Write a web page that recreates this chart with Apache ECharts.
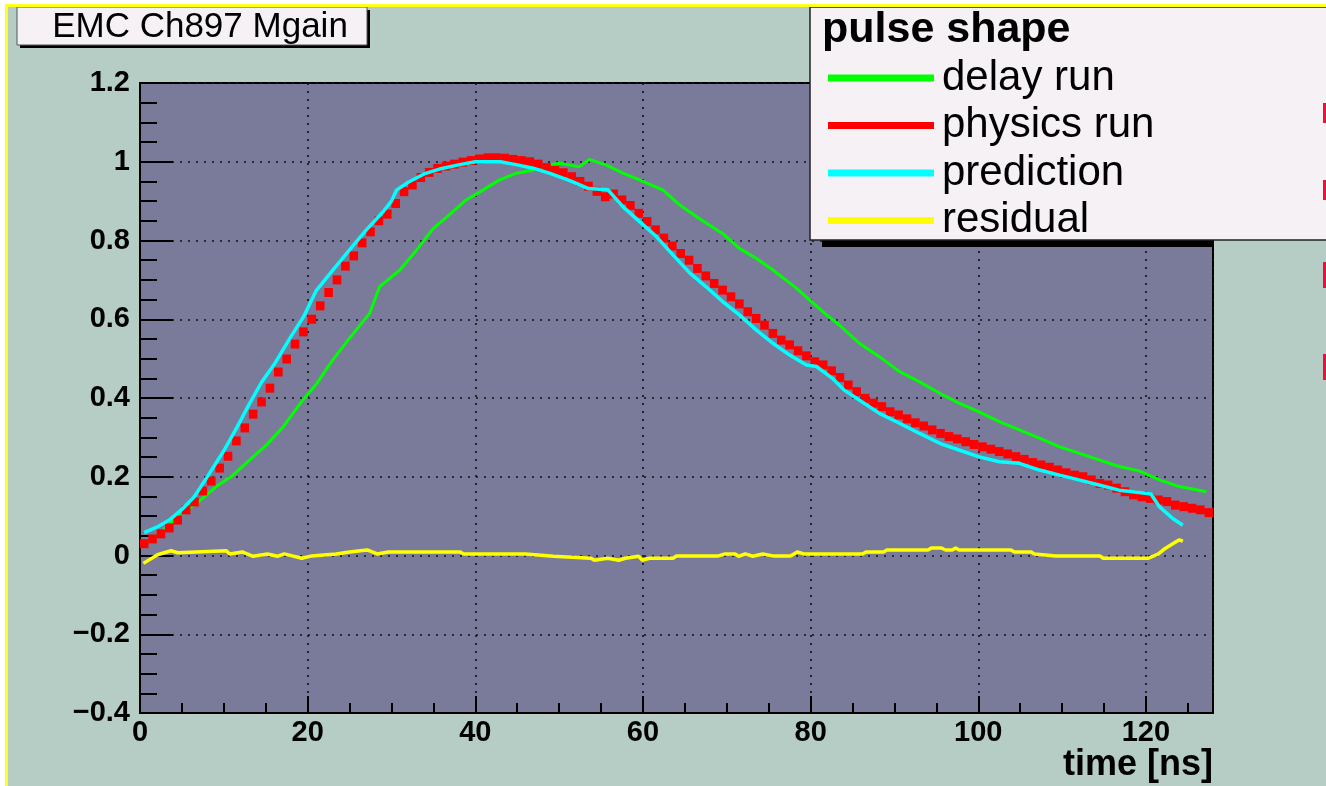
<!DOCTYPE html>
<html><head><meta charset="utf-8">
<script src="https://cdn.jsdelivr.net/npm/echarts@6/dist/echarts.min.js"></script>
<style>html,body{margin:0;padding:0;background:#fff}#c{width:1326px;height:786px}</style>
</head><body><div id="c"></div>
<script>
// ---- texts ----
const titleText = 'EMC Ch897 Mgain';
const legendTitle = 'pulse shape';
const seriesNames = ['delay run', 'physics run', 'prediction', 'residual'];
const xAxisName = 'time [ns]';

// ---- axes ----
const xMin = 0, xMax = 128, xStep = 20;
const yMin = -0.4, yMax = 1.2, yStep = 0.2;

// ---- data: delay run [time, value] ----
const delayRun = [
  [0.5,0.032],[1.5,0.040],[2.4,0.056],[4.8,0.107],[6.8,0.133],[9.1,0.175],[11.1,0.204],
  [13.1,0.243],[15.1,0.281],[17.1,0.327],[19.1,0.386],[21.1,0.437],[23,0.497],[25,0.552],
  [27.4,0.615],[28.6,0.683],[31,0.725],[33,0.776],[35,0.831],[36.9,0.865],[38.9,0.903],
  [40.9,0.928],[42.9,0.954],[44.9,0.971],[46.9,0.979],[47.7,0.989],[50.1,0.996],[52.4,0.987],
  [53.6,1.006],[54.8,0.997],[55.6,0.992],[57.6,0.971],[59.6,0.954],[62.4,0.928],[64.4,0.890],
  [66.7,0.856],[69.5,0.818],[71.5,0.780],[73.5,0.755],[75.5,0.725],[78.3,0.679],[80.3,0.641],
  [81.9,0.611],[83.4,0.586],[85.8,0.539],[88.2,0.505],[90.6,0.467],[93,0.441],[95.4,0.412],
  [97.7,0.387],[100.1,0.365],[102.5,0.340],[104.9,0.319],[107.3,0.298],[109.7,0.276],
  [112,0.260],[114.4,0.243],[116.8,0.226],[119.2,0.215],[121.6,0.192],[124,0.175],[127.2,0.162]
];

// ---- data: physics run, one value per 1 ns bin (bins 0..127) ----
const physicsRun = [
  0.030,0.042,0.055,0.070,0.090,0.116,0.136,0.164,0.189,0.222,
  0.252,0.291,0.324,0.359,0.390,0.425,0.466,0.499,0.537,0.568,
  0.600,0.634,0.668,0.700,0.735,0.761,0.794,0.822,0.850,0.867,
  0.894,0.924,0.941,0.960,0.973,0.983,0.989,0.994,0.999,1.003,
  1.007,1.010,1.010,1.009,1.006,1.003,1.000,0.994,0.985,0.978,
  0.972,0.962,0.950,0.938,0.925,0.911,0.918,0.903,0.889,0.869,
  0.848,0.827,0.806,0.786,0.767,0.750,0.729,0.710,0.691,0.674,
  0.657,0.639,0.619,0.602,0.585,0.564,0.547,0.535,0.520,0.507,
  0.492,0.484,0.469,0.452,0.433,0.416,0.399,0.387,0.378,0.365,
  0.357,0.347,0.337,0.329,0.319,0.310,0.302,0.296,0.289,0.282,
  0.276,0.270,0.264,0.258,0.251,0.244,0.236,0.230,0.224,0.217,
  0.210,0.204,0.200,0.192,0.183,0.179,0.171,0.162,0.154,0.149,
  0.145,0.141,0.137,0.128,0.124,0.120,0.116,0.109
];

// ---- data: prediction [time, value] ----
const prediction = [
  [0.5,0.058],[2,0.072],[3.5,0.090],[5,0.117],[6.5,0.150],[8,0.199],[10,0.266],[11.5,0.323],
  [13,0.383],[14.5,0.440],[16,0.485],[18,0.556],[19.5,0.606],[21,0.672],[23,0.725],[25,0.776],
  [27,0.827],[29,0.873],[30,0.900],[30.6,0.928],[32,0.948],[34,0.970],[36,0.983],[38,0.992],
  [40,1.000],[43,1.000],[45,0.992],[47,0.983],[49,0.970],[51.5,0.950],[53.5,0.932],[55.8,0.929],
  [57.6,0.886],[59.6,0.848],[61.6,0.810],[63.6,0.763],[65.6,0.717],[67.5,0.683],[69.5,0.645],
  [71.5,0.611],[73.5,0.573],[75.5,0.539],[77.5,0.509],[79.5,0.484],[80.7,0.480],[82.6,0.450],
  [84,0.420],[85.8,0.395],[88.2,0.361],[90.6,0.336],[93,0.310],[95.4,0.285],[97.7,0.268],
  [100,0.251],[102.5,0.238],[104.9,0.234],[107.3,0.217],[109.7,0.204],[112,0.192],[114.4,0.179],
  [116.8,0.166],[119.2,0.160],[120.6,0.156],[121.6,0.124],[123.2,0.094],[124.4,0.077]
];

// ---- data: residual [time, value] ----
const residual = [
  [0.4,-0.020],[2.1,0.002],[3.7,0.012],[4.5,0.007],[10.3,0.012],[10.7,0.004],[12.2,0.009],
  [13.5,-0.002],[15.2,0.004],[16.4,-0.002],[17.2,0.004],[19.3,-0.007],[20.5,-0.001],[23.4,0.004],
  [25,0.009],[27.1,0.014],[28.3,0.004],[29.6,0.009],[38.2,0.009],[38.6,0.004],[46,0.004],
  [49.3,-0.002],[53.8,-0.007],[54.2,-0.012],[55.8,-0.007],[57.1,-0.012],[57.9,-0.007],
  [59.5,-0.002],[59.9,-0.012],[60.8,-0.007],[63.6,-0.007],[64,-0.001],[69,-0.001],[69.8,0.004],
  [71,0.004],[71.4,-0.002],[72.2,0.004],[73.1,-0.002],[74.3,0.004],[75.5,-0.001],[77.6,-0.001],
  [78.4,0.009],[79.2,0.004],[86.2,0.004],[86.6,0.009],[88.7,0.009],[89.1,0.014],[94,0.014],
  [94.4,0.019],[95.6,0.019],[96.1,0.014],[96.9,0.014],[97.3,0.019],[97.7,0.014],[103.9,0.014],
  [104.3,0.009],[106.3,0.009],[106.7,0.004],[109.2,-0.001],[114.5,-0.001],[114.9,-0.007],
  [120.3,-0.007],[121.5,0.004],[122.3,0.018],[123.2,0.030],[124,0.040],[124.4,0.036]
];

const physicsPoints = physicsRun.map((v, i) => [i + 0.5, v]);

const FONT = '"Liberation Sans", Arial, sans-serif';
function yFmt(v) {
  const r = Math.round(v * 10) / 10;
  return (r < 0 ? '\u2212' : '') + Math.abs(r);
}

const chart = echarts.init(document.getElementById('c'), null, {renderer: 'canvas'});
chart.setOption({
  animation: false,
  backgroundColor: '#b5cdc5',
  grid: {left: 140, top: 83, width: 1073, height: 630, show: true,
         backgroundColor: '#7a7b9b', borderColor: '#000', borderWidth: 2},
  xAxis: {
    type: 'value', min: xMin, max: xMax, interval: xStep,
    name: xAxisName, nameLocation: 'end', nameGap: 0,
    nameTextStyle: {fontFamily: FONT, fontSize: 36, fontWeight: 'bold', color: '#000',
                    align: 'right', verticalAlign: 'top', padding: [34, 0, 0, 0]},
    axisLine: {show: true, onZero: false, lineStyle: {color: '#000', width: 2}},
    axisTick: {show: true, inside: true, length: 17, lineStyle: {color: '#000', width: 2}},
    minorTick: {show: true, splitNumber: 4, length: 10, lineStyle: {color: '#000', width: 2}},
    axisLabel: {fontFamily: FONT, fontSize: 29, fontWeight: 'bold', color: '#000', margin: 5,
                showMaxLabel: false},
    splitLine: {show: true, lineStyle: {color: '#111', width: 1.6, type: [2, 6]}}
  },
  yAxis: {
    type: 'value', min: yMin, max: yMax, interval: yStep,
    axisLine: {show: true, onZero: false, lineStyle: {color: '#000', width: 2}},
    axisTick: {show: true, inside: true, length: 33, lineStyle: {color: '#000', width: 2}},
    minorTick: {show: true, splitNumber: 4, length: 17, lineStyle: {color: '#000', width: 2}},
    axisLabel: {fontFamily: FONT, fontSize: 29, fontWeight: 'bold', color: '#000', margin: 10,
                formatter: yFmt},
    splitLine: {show: true, lineStyle: {color: '#111', width: 1.6, type: [2, 6]}}
  },
  legend: {
    data: seriesNames, orient: 'vertical', left: 823, top: 51, z: 10,
    icon: 'rect', itemWidth: 106, itemHeight: 7, itemGap: 3.5, selectedMode: false,
    textStyle: {fontFamily: FONT, fontSize: 42, lineHeight: 44, color: '#000', padding: [0, 0, 0, 3]}
  },
  series: [
    {name: seriesNames[0], type: 'line', data: delayRun, showSymbol: false, z: 2,
     lineStyle: {color: '#00ff00', width: 3}, itemStyle: {color: '#00ff00'}},
    {name: seriesNames[1], type: 'scatter', data: physicsPoints, symbol: 'rect', symbolSize: [8.6, 9], z: 3,
     itemStyle: {color: '#ff0000', opacity: 1}},
    {name: seriesNames[2], type: 'line', data: prediction, showSymbol: false, z: 4,
     lineStyle: {color: '#00ffff', width: 3.5}, itemStyle: {color: '#00ffff'}},
    {name: seriesNames[3], type: 'line', data: residual, showSymbol: false, z: 4,
     lineStyle: {color: '#ffff00', width: 3.5}, itemStyle: {color: '#ffff00'}}
  ],
  graphic: [
    // pad edges
    {type: 'rect', z: 20, shape: {x: 0, y: 0, width: 1326, height: 4}, style: {fill: '#fff'}},
    {type: 'rect', z: 20, shape: {x: 0, y: 0, width: 5, height: 786}, style: {fill: '#fff'}},
    {type: 'rect', z: 21, shape: {x: 5, y: 4, width: 1321, height: 3}, style: {fill: '#ffff22'}},
    {type: 'rect', z: 21, shape: {x: 5, y: 4, width: 3, height: 782}, style: {fill: '#ffff22'}},
    // title box
    {type: 'rect', z: 6, shape: {x: 20, y: 10, width: 350, height: 38}, style: {fill: '#000'}},
    {type: 'rect', z: 7, shape: {x: 17, y: 7, width: 350, height: 38},
     style: {fill: '#f5f1f5', stroke: '#555', lineWidth: 1}},
    {type: 'text', z: 8, x: 200, y: 27,
     style: {text: titleText, fontFamily: FONT, fontSize: 35, fill: '#000',
             textAlign: 'center', textVerticalAlign: 'middle'}},
    // legend box
    {type: 'rect', z: 6, shape: {x: 822, y: 240, width: 391, height: 7}, style: {fill: '#000'}},
    {type: 'rect', z: 7, shape: {x: 810, y: 7, width: 530, height: 233},
     style: {fill: '#f5f1f5', stroke: '#222', lineWidth: 1.5}},
    {type: 'text', z: 8, x: 822, y: 30,
     style: {text: legendTitle, fontFamily: FONT, fontSize: 43, fontWeight: 'bold', fill: '#000',
             textAlign: 'left', textVerticalAlign: 'middle'}},
    // neighbouring pad marks at the right edge
    {type: 'rect', z: 8, shape: {x: 1323, y: 103, width: 3, height: 20}, style: {fill: '#e8123c'}},
    {type: 'rect', z: 8, shape: {x: 1323, y: 180, width: 3, height: 20}, style: {fill: '#e8123c'}},
    {type: 'rect', z: 8, shape: {x: 1323, y: 262, width: 3, height: 26}, style: {fill: '#e8123c'}},
    {type: 'rect', z: 8, shape: {x: 1323, y: 354, width: 3, height: 26}, style: {fill: '#e8123c'}}
  ]
});
</script></body></html>
